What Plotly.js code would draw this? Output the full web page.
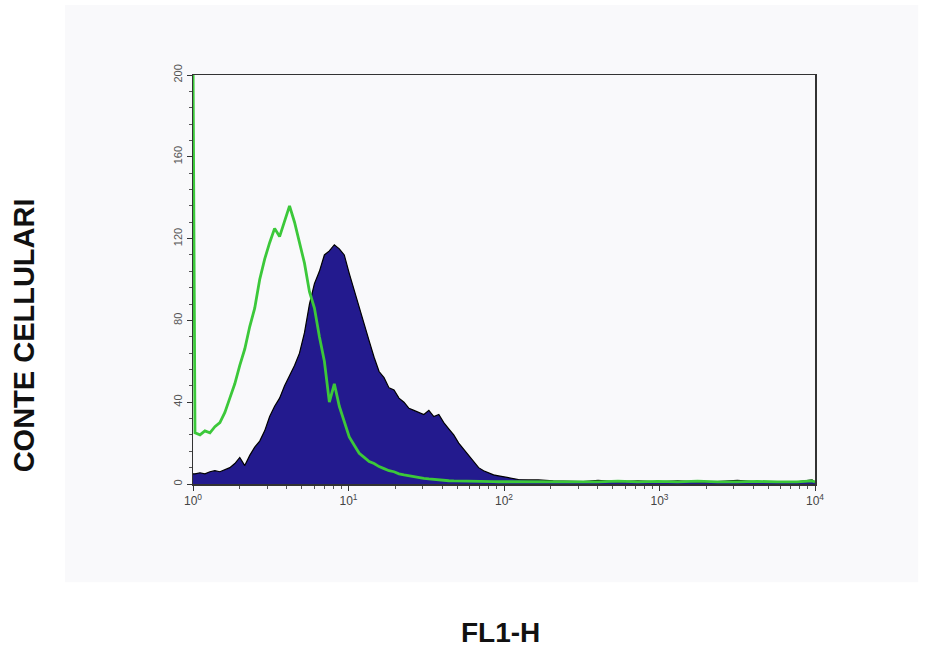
<!DOCTYPE html>
<html>
<head>
<meta charset="utf-8">
<script src="https://cdn.plot.ly/plotly-3.0.1.min.js"></script>
<style>
html,body{margin:0;padding:0;background:#ffffff;}
#chart{width:941px;height:653px;}
</style>
</head>
<body>
<div id="chart"></div>
<script>
// FL1-H channel intensities (shared by both histograms)
const fl1 = [1.0, 1.03, 1.109, 1.193, 1.285, 1.383, 1.489, 1.603, 1.725, 1.857, 1.999,
  2.152, 2.317, 2.494, 2.685, 2.890, 3.111, 3.349, 3.605, 3.880, 4.177,
  4.497, 4.840, 5.211, 5.609, 6.038, 6.500, 6.997, 7.532, 8.108, 8.728,
  9.393, 10.11, 10.89, 11.72, 12.62, 13.58, 14.61, 15.73, 16.93, 18.23,
  19.62, 21.12, 22.74, 24.48, 26.35, 28.37, 30.53, 32.87, 35.38, 38.09,
  41.00, 44.14, 47.52, 51.15, 55.06, 59.27, 63.80, 68.68, 73.93, 79.59,
  85.67, 92.22, 99.27, 106.9, 115.0, 123.8, 143.5, 166.3, 207.4, 258.8,
  322.8, 402.6, 540.5, 725.6, 974.5, 1309, 1757, 2360, 3168, 4254,
  5712, 7670, 9568, 10000];

// Control (green outline)
const controlCounts = [210, 25, 24, 26, 25, 28, 30, 35, 42, 49, 58,
  66, 77, 86, 100, 110, 118, 125, 121, 128, 136,
  128, 118, 108, 94, 86, 72, 60, 40, 49, 38,
  30, 23, 19, 15, 13, 11, 10, 8.5, 7.5, 6.5,
  6, 5, 4.5, 4, 3.5, 3, 2.8, 2.5, 2.2, 2,
  1.8, 1.6, 1.5, 1.5, 1.4, 1.4, 1.3, 1.3, 1.2, 1.2,
  1.2, 1.1, 1.1, 1.1, 1.0, 1.0, 1.2, 1.0, 1.0, 1.3,
  1.0, 1.0, 1.4, 1.0, 1.3, 1.0, 1.4, 1.0, 1.0, 1.3,
  1.0, 1.0, 1.5, 1.0];

// Sample (filled navy)
const sampleCounts = [5, 5, 5.5, 5, 6, 6.5, 6, 7, 8, 10, 13,
  9, 14, 18, 21, 26, 33, 38, 42, 48, 53,
  58, 64, 74, 88, 98, 104, 112, 114, 117, 115,
  112, 103, 95, 86, 78, 70, 62, 55, 52, 47,
  46, 42, 40, 37, 36, 35, 34, 36, 33, 34,
  30, 27, 24, 20, 17, 14, 11, 8, 6.5, 5.5,
  4.5, 4, 3.5, 3, 2.5, 2.2, 2, 2, 1.5, 1.5,
  1.2, 1.8, 1.0, 1.5, 1.0, 1.6, 1.0, 1.2, 1.8, 1.0,
  1.2, 1.0, 2.0, 1.0];

const xTickVals = [1, 10, 100, 1000, 10000];
const xTickText = ['10<sup>0</sup>', '10<sup>1</sup>', '10<sup>2</sup>', '10<sup>3</sup>', '10<sup>4</sup>'];
const xMinorVals = [2,3,4,5,6,7,8,9,20,30,40,50,60,70,80,90,200,300,400,500,600,700,800,900,2000,3000,4000,5000,6000,7000,8000,9000];
const yTickVals = [0, 40, 80, 120, 160, 200];
const yTickText = ['0', '40', '80', '120', '160', '200'];

const traces = [
  {
    x: fl1, y: sampleCounts, type: 'scatter', mode: 'lines',
    fill: 'tozeroy', fillcolor: '#231a8e',
    line: {color: '#000000', width: 1.2},
    hoverinfo: 'skip', showlegend: false
  },
  {
    x: fl1, y: controlCounts, type: 'scatter', mode: 'lines',
    line: {color: '#3cc83a', width: 2.8},
    hoverinfo: 'skip', showlegend: false
  }
];

const layout = {
  width: 941, height: 653,
  margin: {l: 193, r: 126, t: 75, b: 169},
  paper_bgcolor: '#ffffff',
  plot_bgcolor: '#fefefe',
  showlegend: false,
  font: {family: 'Liberation Sans, Arial, sans-serif', color: '#333333'},
  xaxis: {
    type: 'log', range: [0, 4],
    tickmode: 'array', tickvals: xTickVals, ticktext: xTickText,
    ticks: 'outside', ticklen: 5, tickwidth: 1, tickcolor: '#333',
    minor: {tickmode: 'array', tickvals: xMinorVals, ticks: 'outside', ticklen: 3, tickcolor: '#555', showgrid: false},
    showgrid: false, zeroline: false,
    showline: true, linecolor: '#333333', linewidth: 1.5, mirror: true,
    tickfont: {size: 12, color: '#444444'}
  },
  yaxis: {
    range: [0, 200],
    tickmode: 'array', tickvals: yTickVals, ticktext: yTickText,
    ticks: 'outside', ticklen: 5, tickwidth: 1, tickcolor: '#333',
    minor: {dtick: 8, ticks: 'outside', ticklen: 3, tickcolor: '#555', showgrid: false},
    tickangle: -90,
    showgrid: false, zeroline: false,
    showline: true, linecolor: '#333333', linewidth: 1.5, mirror: true,
    tickfont: {size: 11, color: '#555555'}
  },
  shapes: [{
    type: 'rect', xref: 'paper', yref: 'paper', layer: 'below',
    x0: -0.206, x1: 1.166, y0: -0.24, y1: 1.171,
    fillcolor: '#f9f9fb', line: {width: 0}
  }],
  annotations: [
    {
      text: '<b>CONTE CELLULARI</b>', xref: 'paper', yref: 'paper',
      x: -0.272, y: 0.363, textangle: -90, showarrow: false,
      xanchor: 'center', yanchor: 'middle',
      font: {size: 29, color: '#111111', family: 'Liberation Sans, Arial, sans-serif'}
    },
    {
      text: '<b>FL1-H</b>', xref: 'paper', yref: 'paper',
      x: 0.495, y: -0.363, showarrow: false,
      xanchor: 'center', yanchor: 'middle',
      font: {size: 28, color: '#111111', family: 'Liberation Sans, Arial, sans-serif'}
    }
  ]
};

Plotly.newPlot('chart', traces, layout, {staticPlot: true, displayModeBar: false});
</script>
</body>
</html>
